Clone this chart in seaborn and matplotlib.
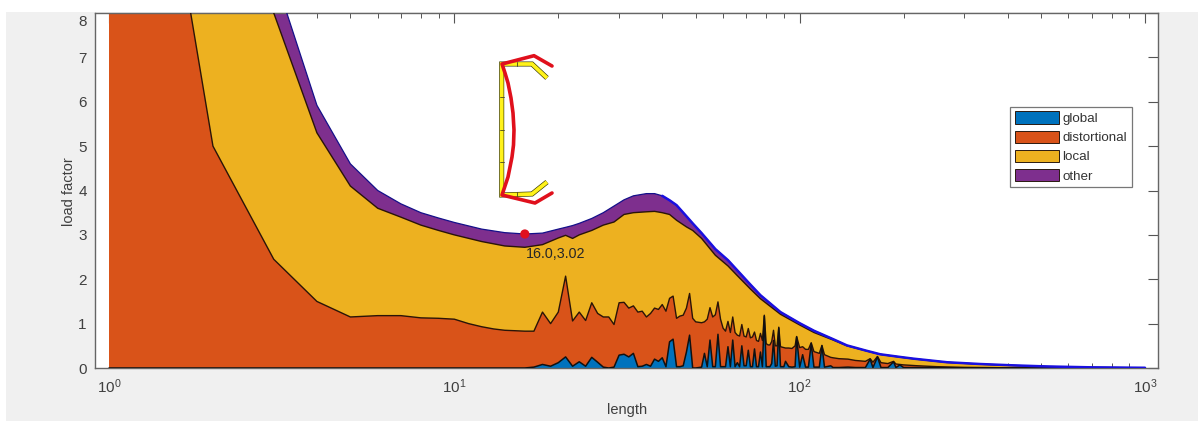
import numpy as np
import pandas as pd
import seaborn as sns
import matplotlib
matplotlib.use("Agg")
import matplotlib.pyplot as plt
from matplotlib.patches import Patch, Rectangle
from matplotlib.ticker import LogLocator, NullFormatter
from matplotlib.transforms import ScaledTranslation

# ---- data ----
len_low = list(range(1, 51)) + [52,53,54,55,56,57,58,59,60,61,62,63,64,65,66,67,68,69,70,71,72,73,74,75,76,77,78,79,
    80,81,82,83,84,85,86,87,88,90,91,93,95,97,98,100,102,104,106,108,110,112,114,116,118,123,125,130,138,145,150,155,
    160,163,168,172,180,187,190,195,200,220,250,300,400,1000]
global_top = [0]*16 + [.02,.08,.04,.12,.25,.04,.14,.04,.24,.13,.02,0,.02,.29,.31,.25,.33,.03,.04,.08,.04,.2,.15,.23,.03,.59,.65,.03,.03,.05,.36,.74,0,0] + [
    .02,.33,.03,.63,.03,.03,.76,.03,.03,.03,.48,.03,.63,.03,.12,.03,.5,.05,.05,.4,.03,.03,.43,.03,.03,.36,.03,1.17,
    .03,.03,.03,.1,.62,.04,.05,.9,.03,.03,.15,.03,.02,.03,.7,.02,.3,.02,.02,.55,.02,.02,.02,.5,.02,.05,.01,.01,.02,.01,.01,.01,
    .2,.01,.25,.01,.01,.14,.01,.07,.01,.01,.005,.002,0,0]
dist_top = [19,5,2.45,1.5,1.15,1.18,1.18,1.13,1.12,1.1,1.0,.93,.88,.85,.84,.83,.83,1.26,1.0,1.26,2.07,1.06,1.26,1.07,1.47,
    1.23,1.15,1.15,.98,1.47,1.48,1.35,1.4,1.26,1.28,1.15,1.23,1.35,1.32,1.43,1.28,1.57,1.62,1.12,1.17,1.19,1.35,1.68,1.12,1.04] + [
    1.02,1.04,1.1,1.36,1.15,1.2,1.49,1.1,.9,.83,1.05,.8,1.15,.8,.74,.72,.98,.72,.7,.89,.68,.7,.81,.62,.6,.78,.62,1.19,
    .55,.52,.52,.6,.85,.5,.5,.92,.48,.46,.45,.45,.44,.5,.71,.46,.48,.42,.42,.57,.37,.35,.33,.51,.3,.24,.23,.21,.2,.17,.16,.15,
    .21,.13,.26,.12,.1,.15,.09,.08,.07,.05,.03,.015,.005,0]

len_up = [1,2,3,4,5,6,7,8,9,10,12,14,16,18,20,21,22,23,25,27,29,31,33,36,38,40,42,44,47,49,52,57,62,66,72,77,88,100,110,
    125,137,156,171,195,214,267,333,415,521,700,1000]
local_top = [40,20,8.0,5.3,4.1,3.6,3.4,3.22,3.1,3.0,2.85,2.75,2.72,2.78,2.93,2.99,2.92,3.0,3.1,3.22,3.29,3.46,3.5,3.52,3.53,3.5,3.46,3.33,
    3.18,3.1,2.92,2.54,2.3,2.08,1.78,1.56,1.21,.97,.8,.63,.5,.385,.305,.245,.205,.125,.085,.055,.03,.012,.004]
total_top = [45,22,8.9,5.92,4.6,4.0,3.7,3.5,3.38,3.28,3.13,3.05,3.02,3.04,3.13,3.17,3.21,3.26,3.37,3.5,3.65,3.79,3.88,3.93,3.93,3.88,3.78,3.67,
    3.42,3.26,3.04,2.68,2.43,2.2,1.88,1.64,1.26,1.01,.84,.65,.51,.39,.31,.25,.21,.13,.09,.06,.035,.015,.005]

series_names = ["global", "distortional", "local", "other"]
series_colors = ["#0072BD", "#D95319", "#EDB120", "#7E2F8E"]
marker_len, marker_val = 16.0, 3.02
marker_text = "16.0,3.02"

# cross-section sketch (figure pixels)
yellow_x = [547, 532, 501.7, 501.7, 532, 547]
yellow_y = [78, 64, 64, 195, 194, 182]
red_x = [552, 534, 502, 505, 508, 511, 513, 514, 513.5, 512, 510, 508, 505, 502, 535, 552]
red_y = [66, 55.7, 64, 73, 83, 98, 113, 130, 145, 157, 167, 177, 186, 195, 203, 193]
node_x = [501.7, 501.7, 501.7, 517, 517]
node_y = [97, 130, 162, 64, 194]

sns.set_theme(style="white")
plt.rcParams["font.family"] = ["Liberation Sans", "DejaVu Sans"]
plt.rcParams["mathtext.fontset"] = "custom"
plt.rcParams["mathtext.rm"] = "Liberation Sans"
plt.rcParams["mathtext.default"] = "regular"

W, H = 1198, 421
fig = plt.figure(figsize=(W/100, H/100), dpi=100, facecolor="white")
fig.patches.append(Rectangle((6/W, 0), 1 - 6/W, 1 - 12/H, transform=fig.transFigure,
                             facecolor="#F0F0F0", edgecolor="none", zorder=-10))
ax = fig.add_axes([95/W, 1 - 368/H, (1158-95)/W, (368-13)/H])
ax.set_xscale("log")
ax.set_axisbelow(True)

ax.fill_between(len_up, 0, total_top, facecolor=series_colors[3], edgecolor="none", zorder=1)
ax.fill_between(len_up, 0, local_top, facecolor=series_colors[2], edgecolor="none", zorder=1.1)
ax.fill_between(len_low, 0, dist_top, facecolor=series_colors[1], edgecolor="none", zorder=1.2)
ax.fill_between(len_low, 0, global_top, facecolor=series_colors[0], edgecolor="none", zorder=1.3)

dark = "#2a1408"
up = pd.DataFrame({"length": len_up, "local": local_top, "total": total_top})
low = pd.DataFrame({"length": len_low, "dist": dist_top, "glob": global_top})
kw = dict(estimator=None, sort=False, ax=ax)
sns.lineplot(data=up, x="length", y="local", color=dark, lw=1.0, zorder=2, **kw)
sns.lineplot(data=low, x="length", y="dist", color=dark, lw=1.0, zorder=2.1, **kw)
sns.lineplot(data=low, x="length", y="glob", color="#111111", lw=1.1, zorder=2.2, **kw)
sns.lineplot(data=up, x="length", y="total", color="#14108a", lw=0.9, zorder=5, **kw)
sns.lineplot(data=up[up.length >= 40], x="length", y="total", color="#1a10e0", lw=1.8, zorder=5, **kw)
sns.scatterplot(x=[marker_len], y=[marker_val], ax=ax, color="#E01020", s=44, edgecolor="none", zorder=7)
ax.annotate(marker_text, (marker_len, marker_val), xytext=(0.7, -14.5), textcoords="offset points",
            fontsize=10.3, color="#262626", va="center", ha="left", zorder=7)

ax.set_xlim(10**(-14/345.3), 10**(3+13/345.3))
ax.set_ylim(0, 8)
ax.set_xlabel("length", fontsize=10.5, color="#404040", labelpad=0)
ax.set_ylabel("load factor", fontsize=10.5, color="#404040", labelpad=0)
ax.xaxis.set_label_coords((627-95)/(1158-95), -(403-368)/355)
ax.yaxis.set_label_coords((76-95)/(1158-95), (368-192)/355)
ax.set_xticks([1, 10, 100, 1000])
ax.set_xticklabels(["$10^{0}$", "$10^{1}$", "$10^{2}$", "$10^{3}$"])
ax.xaxis.set_minor_locator(LogLocator(base=10, subs=range(2, 10), numticks=12))
ax.xaxis.set_minor_formatter(NullFormatter())
ax.set_yticks(range(0, 9))
ax.tick_params(axis="both", which="major", direction="in", length=7.2, width=0.8, color="#555555",
               labelcolor="#404040", labelsize=11, top=True, right=True)
ax.tick_params(axis="x", which="minor", direction="in", length=3.6, width=0.7, color="#555555", top=True, bottom=True)
ax.tick_params(axis="x", which="major", pad=7)
ax.tick_params(axis="y", which="major", pad=6)
lab8 = ax.get_yticklabels()[-1]
lab8.set_va("top")
lab8.set_transform(lab8.get_transform() + ScaledTranslation(0, -1.5/72, fig.dpi_scale_trans))
for s in ax.spines.values():
    s.set_color("#666666")
    s.set_linewidth(1.0)
    s.set_zorder(1.5)
ax.grid(False)

handles = [Patch(facecolor=c, edgecolor="#2a1a10", linewidth=0.7) for c in series_colors]
leg = ax.legend(handles, series_names, loc="upper left",
                bbox_to_anchor=(1010/W, 1 - 106.5/H), bbox_transform=fig.transFigure,
                fontsize=9.6, frameon=True, fancybox=False, edgecolor="#777777", facecolor="white", framealpha=1,
                borderaxespad=0, handlelength=3.34, handleheight=1.05, handletextpad=0.22,
                labelspacing=0.41, borderpad=0.36, labelcolor="#333333")
leg.get_frame().set_linewidth(0.9)
leg.set_zorder(10)

sk = fig.add_axes([0, 0, 1, 1], facecolor="none")
sk.set_xlim(0, W); sk.set_ylim(H, 0); sk.axis("off")
sk.plot(yellow_x, yellow_y, color="#333300", lw=3.6, solid_joinstyle="miter", solid_capstyle="butt")
sk.plot(yellow_x, yellow_y, color="#FFF21A", lw=2.7, solid_joinstyle="miter", solid_capstyle="butt")
for nx, ny in zip(node_x, node_y):
    if nx < 510:
        sk.plot([nx-1.8, nx+1.8], [ny, ny], color="#444422", lw=0.6)
    else:
        sk.plot([nx, nx], [ny-1.8, ny+1.8], color="#444422", lw=0.6)
sk.plot(red_x, red_y, color="#E0101C", lw=2.6, solid_joinstyle="round", solid_capstyle="round")

fig.savefig("out.png", dpi=100, facecolor=fig.get_facecolor())
